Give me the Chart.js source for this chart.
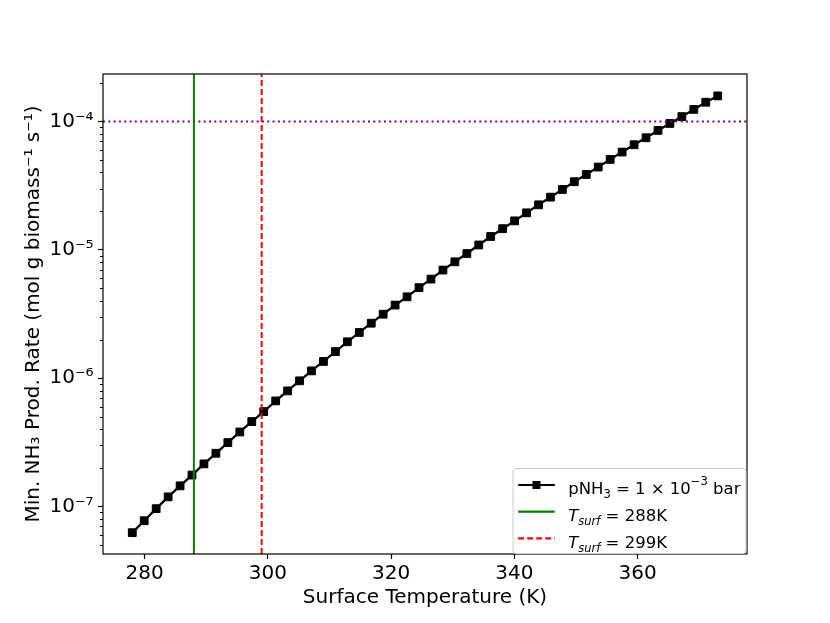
<!DOCTYPE html>
<html lang="en">
<head>
  <meta charset="UTF-8">
  <title>Min. NH3 production rate vs surface temperature</title>
  <script src="https://cdn.jsdelivr.net/npm/chart.js"></script>
  <style>
    html, body {
      margin: 0;
      padding: 0;
      background: #fff;
    }

    #wrap {
      width: 830px;
      height: 623px;
    }
  </style>
</head>
<body>
  <div id="wrap"><canvas id="myChart"></canvas></div>

  <script>
    // surface temperature (K) of each computed point
    const temps = [
      278.00, 279.94, 281.88, 283.82, 285.76, 287.69, 289.63, 291.57, 293.51, 295.45,
      297.39, 299.33, 301.27, 303.20, 305.14, 307.08, 309.02, 310.96, 312.90, 314.84,
      316.78, 318.71, 320.65, 322.59, 324.53, 326.47, 328.41, 330.35, 332.29, 334.22,
      336.16, 338.10, 340.04, 341.98, 343.92, 345.86, 347.80, 349.73, 351.67, 353.61,
      355.55, 357.49, 359.43, 361.37, 363.31, 365.24, 367.18, 369.12, 371.06, 373.00
    ];

    // min. NH3 production rate (mol g biomass^-1 s^-1), pNH3 = 1e-3 bar
    const rates = [
      6.26e-8, 7.76e-8, 9.63e-8, 1.19e-7, 1.45e-7, 1.76e-7, 2.15e-7, 2.60e-7, 3.15e-7, 3.81e-7,
      4.59e-7, 5.49e-7, 6.65e-7, 7.96e-7, 9.53e-7, 1.14e-6, 1.35e-6, 1.61e-6, 1.92e-6, 2.27e-6,
      2.68e-6, 3.15e-6, 3.71e-6, 4.30e-6, 5.07e-6, 5.91e-6, 6.95e-6, 8.06e-6, 9.35e-6, 1.09e-5,
      1.27e-5, 1.46e-5, 1.68e-5, 1.94e-5, 2.24e-5, 2.57e-5, 2.95e-5, 3.39e-5, 3.86e-5, 4.41e-5,
      5.06e-5, 5.77e-5, 6.58e-5, 7.46e-5, 8.51e-5, 9.64e-5, 1.09e-4, 1.24e-4, 1.41e-4, 1.58e-4
    ];

    const tsurfA = 288;
    const tsurfB = 299;
    const rateLimit = 1e-4;

    const xTicks = [280, 300, 320, 340, 360];
    const yTicks = [1e-7, 1e-6, 1e-5, 1e-4];
    const xRange = [273.25, 377.75];
    const yRange = [4.27e-8, 2.34e-4];

    const FONT = "'DejaVu Sans', sans-serif";

    const supDigits = { '-': '\u207B', '0': '\u2070', '1': '\u00B9', '2': '\u00B2', '3': '\u00B3',
      '4': '\u2074', '5': '\u2075', '6': '\u2076', '7': '\u2077', '8': '\u2078', '9': '\u2079' };
    function sup(n) {
      return String(n).split('').map(c => supDigits[c]).join('');
    }

    // frame, minor log ticks
    const framePlugin = {
      id: 'frame',
      afterDatasetsDraw(chart) {
        const { ctx, chartArea: a, scales } = chart;
        ctx.save();
        ctx.strokeStyle = '#000';
        ctx.lineWidth = 1;
        for (let e = -8; e <= -4; e++) {
          for (let m = 2; m <= 9; m++) {
            const v = m * Math.pow(10, e);
            if (v < yRange[0] || v > yRange[1]) continue;
            const py = Math.round(scales.y.getPixelForValue(v)) + 0.5;
            ctx.beginPath();
            ctx.moveTo(a.left - 3, py);
            ctx.lineTo(a.left, py);
            ctx.stroke();
          }
        }
        ctx.lineWidth = 1.2;
        ctx.strokeRect(a.left, a.top, a.right - a.left, a.bottom - a.top);
        ctx.restore();
      }
    };

    function drawRuns(ctx, x, y, runs) {
      runs.forEach(r => {
        ctx.font = r.font;
        ctx.fillText(r.text, x, y + (r.dy || 0));
        x += ctx.measureText(r.text).width;
      });
    }

    const legendPlugin = {
      id: 'mplLegend',
      afterDraw(chart) {
        const { ctx, chartArea: a } = chart;
        const w = 233, h = 85;
        const left = a.right - 1.5 - w;
        const top = a.bottom - 1 - h;
        ctx.save();
        ctx.beginPath();
        ctx.roundRect(left + 0.5, top + 0.5, w, h, 3);
        ctx.fillStyle = 'rgba(255,255,255,0.8)';
        ctx.fill();
        ctx.strokeStyle = '#cccccc';
        ctx.lineWidth = 1;
        ctx.stroke();

        const rows = [top + 17, top + 43.7, top + 70.3];
        const hx0 = left + 5.7, hx1 = left + 42.3, tx = left + 55.7;

        // handles
        ctx.lineWidth = 2.2;
        ctx.strokeStyle = '#000';
        ctx.beginPath(); ctx.moveTo(hx0, rows[0]); ctx.lineTo(hx1, rows[0]); ctx.stroke();
        ctx.fillStyle = '#000';
        ctx.fillRect((hx0 + hx1) / 2 - 4, rows[0] - 4, 8, 8);
        ctx.strokeStyle = 'green';
        ctx.beginPath(); ctx.moveTo(hx0, rows[1]); ctx.lineTo(hx1, rows[1]); ctx.stroke();
        ctx.strokeStyle = '#ff0000';
        ctx.setLineDash([6, 3]);
        ctx.beginPath(); ctx.moveTo(hx0, rows[2]); ctx.lineTo(hx1, rows[2]); ctx.stroke();
        ctx.setLineDash([]);

        // labels
        ctx.fillStyle = '#000';
        ctx.textBaseline = 'alphabetic';
        ctx.textAlign = 'left';
        const big = '16.5px ' + FONT, small = '11.5px ' + FONT;
        const bigI = 'italic 16.5px ' + FONT, smallI = 'italic 11.5px ' + FONT;
        drawRuns(ctx, tx, rows[0] + 9, [
          { text: 'pNH', font: big },
          { text: '3', font: small, dy: 4 },
          { text: ' = 1 \u00D7 10', font: big },
          { text: '\u22123', font: small, dy: -9 },
          { text: ' bar', font: big }
        ]);
        drawRuns(ctx, tx, rows[1] + 9.5, [
          { text: 'T', font: bigI },
          { text: 'surf', font: smallI, dy: 4 },
          { text: ' = ' + tsurfA + 'K', font: big }
        ]);
        drawRuns(ctx, tx, rows[2] + 9.5, [
          { text: 'T', font: bigI },
          { text: 'surf', font: smallI, dy: 4 },
          { text: ' = ' + tsurfB + 'K', font: big }
        ]);
        ctx.restore();
      }
    };

    document.addEventListener('DOMContentLoaded', function() {
      const ctx = document.getElementById('myChart').getContext('2d');
      new Chart(ctx, {
        type: 'line',
        data: {
          datasets: [
            {
              label: 'pNH3 = 1e-3 bar',
              data: temps.map((t, i) => ({ x: t, y: rates[i] })),
              borderColor: '#000',
              borderWidth: 2.3,
              pointStyle: 'rect',
              pointRadius: 5.5,
              pointBackgroundColor: '#000',
              pointBorderColor: '#000',
              pointBorderWidth: 1,
              tension: 0,
              order: 2
            },
            {
              label: 'Tsurf = 288K',
              data: [{ x: tsurfA, y: yRange[0] }, { x: tsurfA, y: yRange[1] }],
              borderColor: 'green',
              borderWidth: 2,
              pointRadius: 0,
              order: 0
            },
            {
              label: 'Tsurf = 299K',
              data: [{ x: tsurfB, y: yRange[0] }, { x: tsurfB, y: yRange[1] }],
              borderColor: '#ff0000',
              borderWidth: 2,
              borderDash: [6, 3],
              pointRadius: 0,
              order: 0
            },
            {
              label: 'limit',
              data: [{ x: xRange[0], y: rateLimit }, { x: xRange[1], y: rateLimit }],
              borderColor: 'purple',
              borderWidth: 2,
              borderDash: [2, 3.3],
              pointRadius: 0,
              order: 0
            }
          ]
        },
        options: {
          responsive: true,
          maintainAspectRatio: false,
          animation: false,
          devicePixelRatio: 1,
          layout: {
            padding: { left: 0, top: 74, right: 83, bottom: 0 }
          },
          plugins: {
            legend: { display: false },
            tooltip: { enabled: false }
          },
          scales: {
            x: {
              type: 'linear',
              min: xRange[0],
              max: xRange[1],
              afterBuildTicks: s => { s.ticks = xTicks.map(v => ({ value: v })); },
              afterFit: s => { s.height = 69; },
              ticks: {
                font: { family: FONT, size: 20 },
                color: '#000',
                padding: 3,
                maxRotation: 0,
                autoSkip: false
              },
              grid: {
                drawOnChartArea: false,
                drawTicks: true,
                tickLength: 5,
                tickColor: '#000',
                tickWidth: 1.2
              },
              border: { display: false },
              title: {
                display: true,
                text: 'Surface Temperature (K)',
                color: '#000',
                font: { family: FONT, size: 20 },
                padding: { top: 0, bottom: 13 }
              }
            },
            y: {
              type: 'logarithmic',
              min: yRange[0],
              max: yRange[1],
              afterBuildTicks: s => { s.ticks = yTicks.map(v => ({ value: v })); },
              afterFit: s => { s.width = 103; },
              ticks: {
                font: { family: FONT, size: 20 },
                color: '#000',
                padding: 4.5,
                autoSkip: false,
                callback: v => '10' + sup(Math.round(Math.log10(v)))
              },
              grid: {
                drawOnChartArea: false,
                drawTicks: true,
                tickLength: 5,
                tickColor: '#000',
                tickWidth: 1.2
              },
              border: { display: false },
              title: {
                display: true,
                text: 'Min. NH\u2083 Prod. Rate (mol g biomass\u207B\u00B9 s\u207B\u00B9)',
                color: '#000',
                font: { family: FONT, size: 20 },
                padding: { top: 22, bottom: 0 }
              }
            }
          }
        },
        plugins: [framePlugin, legendPlugin]
      });
    });
  </script>
</body>
</html>
